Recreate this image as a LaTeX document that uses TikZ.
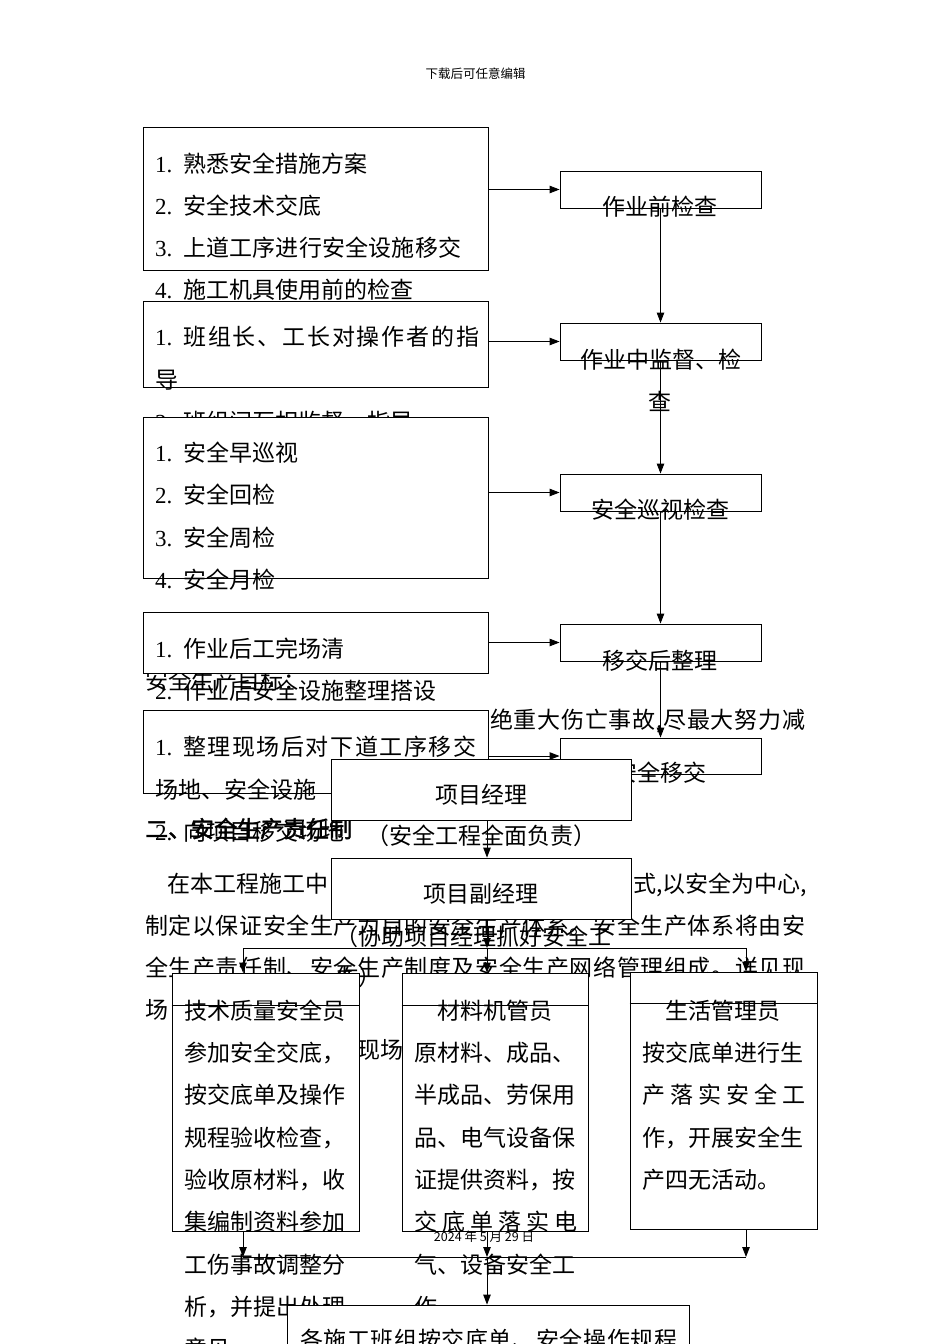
\documentclass[tikz,border=0pt]{standalone}
\usepackage{fontspec}
\setmainfont{Noto Sans CJK SC}
\newfontfamily\numf{Liberation Serif}
\newfontfamily\hdf[FakeBold=1.5]{Noto Sans CJK SC}
\usetikzlibrary{arrows.meta}
\tikzset{
  box/.style={draw, fill=white, line width=0.9pt, inner sep=0pt},
  txt/.style={inner sep=0pt, anchor=base west, font=\fontsize{23}{27}\selectfont},
  ctxt/.style={txt, anchor=base},
  etxt/.style={txt, anchor=base east},
  arr/.style={line width=0.9pt, -{Triangle[length=10pt,width=7.5pt]}},
  ln/.style={line width=0.9pt},
}
\newcommand\mybox[5]{\node[box, minimum width={(#4)-(#2)}, minimum height={(#5)-(#3)}] (#1) at ({((#2)+(#4))/2},{((#3)+(#5))/2}) {};}
\newcommand\tl[5][txt]{\node[#1] (#2) at ({#3},{(#4)+8.4}) {#5};}
\newcommand\nm[1]{\makebox[28pt][l]{\numf #1}}
\def\sprA#1{#1\sprB}
\def\sprB#1{\ifx\relax#1\else\hfil#1\expandafter\sprB\fi}
\newcommand\spread[2]{\makebox[#1][s]{\sprA#2\relax}}
\begin{document}
\begin{tikzpicture}[x=1pt,y=-1pt]
\fill[white] (0,0) rectangle (950,1344);
\useasboundingbox (0,0) rectangle (950,1344);
% header
\node[inner sep=0pt, font=\fontsize{12.5}{14}\selectfont] (hdr) at (475.5,74) {下载后可任意编辑};
% background paragraph text
\tl{bg1}{145}{681}{安全生产目标：}
\tl{bg2}{490}{720}{\spread{315pt}{绝重大伤亡事故,尽最大努力减}}
\tl{bg3}{145}{829}{\hdf 二、安全生产责任制}
\tl{bg4}{167}{884}{在本工程施工中}
\tl{bg5}{633}{884}{\spread{172pt}{式,以安全为中心,}}
\tl{bg6}{145}{926}{\spread{660pt}{制定以保证安全生产为目的安全生产体系。安全生产体系将由安}}
\tl{bg7}{145}{968}{\spread{660pt}{全生产责任制、安全生产制度及安全生产网络管理组成。详见现}}
\tl{bg8}{145}{1010}{场（见附图）}
\tl{bg9}{357}{1050}{现场}
% left column
\mybox{A}{143}{127}{488}{270}
\tl{a1}{155}{164}{\nm{1.}熟悉安全措施方案}
\tl{a2}{155}{206}{\nm{2.}安全技术交底}
\tl{a3}{155}{248}{\nm{3.}\spread{278pt}{上道工序进行安全设施移交}}
\tl{a4}{155}{290}{\nm{4.}施工机具使用前的检查}
\mybox{B}{143}{301}{488}{387}
\tl{b1}{155}{337}{\nm{1.}\spread{296pt}{班组长、工长对操作者的指}}
\tl{b2}{155}{380}{导}
\tl{b3}{155}{422}{\nm{2.}班组间互相监督、指导}
\mybox{C}{143}{417}{488}{578}
\tl{c1}{155}{453}{\nm{1.}安全早巡视}
\tl{c2}{155}{495}{\nm{2.}安全回检}
\tl{c3}{155}{538}{\nm{3.}安全周检}
\tl{c4}{155}{580}{\nm{4.}安全月检}
\mybox{D}{143}{612}{488}{673}
\tl{d1}{155}{649}{\nm{1.}作业后工完场清}
\tl{d2}{155}{691}{\nm{2.}作业后安全设施整理搭设}
\mybox{E}{143}{710}{488}{793}
\tl{e1}{155}{747}{\nm{1.}\spread{293pt}{整理现场后对下道工序移交}}
\tl{e2}{155}{790}{场地、安全设施}
\tl{e3}{155}{832}{\nm{2.}向项目移交场地}
% right column
\mybox{R1}{560}{171}{761}{208}
\mybox{R2}{560}{323}{761}{360}
\mybox{R3}{560}{474}{761}{511}
\mybox{R4}{560}{624}{761}{661}
\mybox{R5}{560}{738}{761}{774}
\tl[ctxt]{r1t}{660}{207}{作业前检查}
\tl[ctxt]{r2t}{661}{360}{作业中监督、检}
\tl[ctxt]{r2u}{660}{402}{查}
\tl[ctxt]{r3t}{660}{510}{安全巡视检查}
\tl[ctxt]{r4t}{660}{661}{移交后整理}
\tl[ctxt]{r5t}{660}{773}{安全移交}
\draw[arr] (R1.west -| A.east) -- (R1.west);
\draw[arr] (R2.west -| B.east) -- (R2.west);
\draw[arr] (R3.west -| C.east) -- (R3.west);
\draw[arr] (R4.west -| D.east) -- (R4.west);
\draw[arr] (R5.west -| E.east) -- (R5.west);
\draw[arr] (R1.south) -- (R2.north);
\draw[arr] (R2.south) -- (R3.north);
\draw[arr] (R3.south) -- (R4.north);
\draw[arr] (R4.south) -- (R5.north);
% organisation chart
\mybox{PM}{331}{759}{631}{820}
\tl[ctxt]{pmt}{481}{795}{项目经理}
\tl[ctxt]{pmu}{481}{836}{（安全工程全面负责）}
\mybox{VPM}{331}{858}{631}{919}
\tl[ctxt]{vpt}{481}{894}{项目副经理}
\tl{vpu}{335}{937}{（协助项目经理抓好安全工}
\tl{vpv}{335}{977}{作）}
\draw[arr] ([xshift=6pt]PM.south) -- ([xshift=6pt]VPM.north);
\coordinate (bus1) at (243,948);
\coordinate (busm) at (487,948);
\coordinate (bus2) at (746,948);
\draw[arr] ([xshift=6pt]VPM.south) -- (busm);
\draw[ln] (bus1) -- (bus2);
\mybox{T1}{172}{973}{359}{1231}
\mybox{T2}{402}{973}{588}{1231}
\mybox{T3}{630}{972}{817}{1229}
\draw[arr] (bus1) -- (T1.north -| bus1);
\draw[arr] (busm) -- (T2.north -| busm);
\draw[arr] (bus2) -- (T3.north -| bus2);
\draw[ln] ([yshift=-33pt]T1.north west) -- ([yshift=-33pt]T1.north east);
\draw[ln] ([yshift=-33pt]T2.north west) -- ([yshift=-33pt]T2.north east);
\draw[ln] ([yshift=-32pt]T3.north west) -- ([yshift=-32pt]T3.north east);
\tl{t1a}{184}{1011}{技术质量安全员}
\tl{t1b}{184}{1053}{参加安全交底，}
\tl{t1c}{184}{1095}{按交底单及操作}
\tl{t1d}{184}{1138}{规程验收检查，}
\tl{t1e}{184}{1180}{验收原材料，收}
\tl{t1f}{184}{1222}{集编制资料参加}
\tl{t1g}{184}{1265}{工伤事故调整分}
\tl{t1h}{184}{1307}{析，并提出处理}
\tl{t1i}{184}{1349}{意见}
\tl[ctxt]{t2a}{495}{1011}{材料机管员}
\tl{t2b}{414}{1053}{原材料、成品、}
\tl{t2c}{414}{1095}{半成品、劳保用}
\tl{t2d}{414}{1138}{品、电气设备保}
\tl{t2e}{414}{1180}{证提供资料，按}
\tl{t2f}{414}{1222}{\spread{163pt}{交底单落实电}}
\tl{t2g}{414}{1265}{气、设备安全工}
\tl{t2h}{414}{1307}{作}
\tl[ctxt]{t3a}{723}{1011}{生活管理员}
\tl{t3b}{642}{1053}{按交底单进行生}
\tl{t3c}{642}{1095}{\spread{163pt}{产落实安全工}}
\tl{t3d}{642}{1138}{作，开展安全生}
\tl{t3e}{642}{1180}{产四无活动。}
% bottom
\coordinate (bb1) at (243,1257);
\coordinate (bbm) at (487,1257);
\coordinate (bb2) at (746,1257);
\draw[arr] (T1.south -| bb1) -- (bb1);
\draw[arr] (T2.south -| bbm) -- (bbm);
\draw[arr] (T3.south -| bb2) -- (bb2);
\draw[ln] (bb1) -- (bb2);
\mybox{F}{287}{1305}{689}{1370}
\draw[arr] (bbm) -- (F.north -| bbm);
\tl{ft}{300}{1340}{\spread{377pt}{各施工班组按交底单、安全操作规程}}
% footer
\node[inner sep=0pt, font=\fontsize{12.5}{14}\selectfont] (foot) at (484,1237) {2024 年 5 月 29 日};
\end{tikzpicture}
\end{document}
